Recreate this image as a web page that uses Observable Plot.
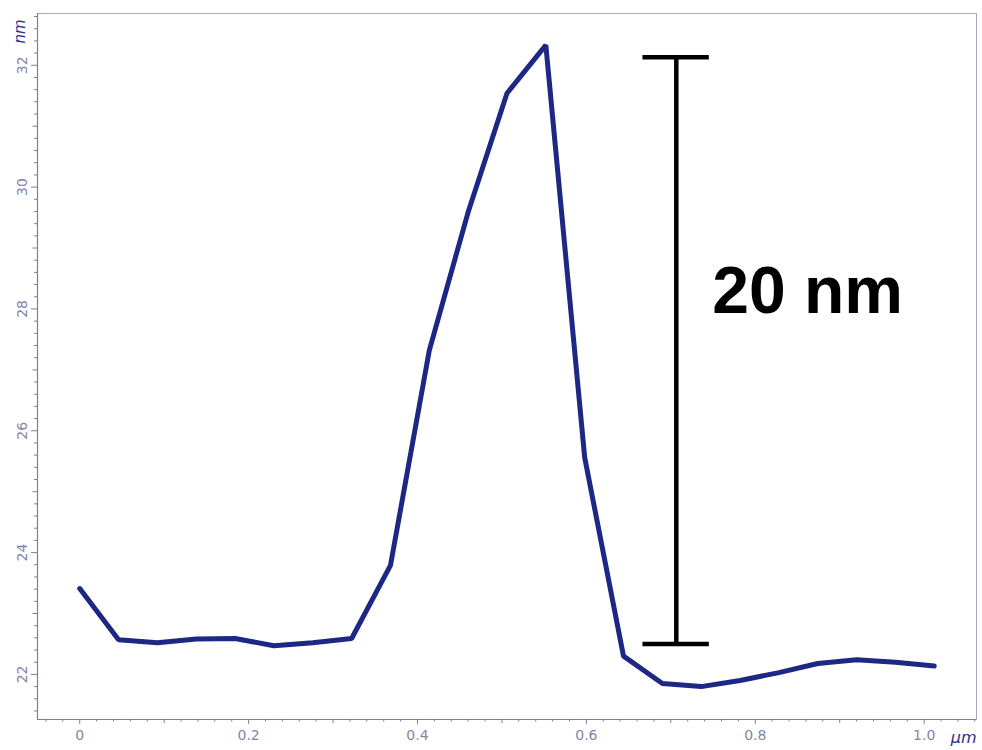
<!DOCTYPE html>
<html>
<head>
<meta charset="utf-8">
<script src="https://cdn.jsdelivr.net/npm/d3@7"></script>
<script src="https://cdn.jsdelivr.net/npm/@observablehq/plot@0.6"></script>
<style>
  html, body { margin: 0; padding: 0; background: #fff; }
</style>
</head>
<body>
<div id="chart"></div>
<script>
// Profile data: position along scan (µm) and height (nm)
const positions = [0, 0.046, 0.092, 0.138, 0.184, 0.230, 0.276, 0.322, 0.368, 0.414, 0.460, 0.506,
                   0.552, 0.598, 0.644, 0.690, 0.736, 0.782, 0.828, 0.874, 0.920, 0.966, 1.012];
const heights = [23.41, 22.57, 22.52, 22.58, 22.59, 22.47, 22.52, 22.59, 23.79, 27.32, 29.59, 31.54,
                 32.33, 25.56, 22.30, 21.85, 21.80, 21.90, 22.03, 22.18, 22.24, 22.20, 22.14];

// Tick labels
const xTickValues = [0, 0.2, 0.4, 0.6, 0.8, 1.0];
const xTickLabels = ["0", "0.2", "0.4", "0.6", "0.8", "1.0"];
const yTickValues = [22, 24, 26, 28, 30, 32];
const yTickLabels = ["22", "24", "26", "28", "30", "32"];

// Scale bar annotation
const barX = [0.7065];
const barY = [22.50, 32.13];
const barCapX = [0.667, 0.7456];
const barLabel = ["20 nm"];
const barLabelPos = [{x: 0.749, y: 27.93}];

const xDomain = [-0.05, 1.062];
const yDomain = [21.26, 32.85];

const xMinor = d3.range(-4, 107, 2).map(i => i / 100).filter(v => Math.round(v * 100) % 10 !== 0);
const xMid = d3.range(0, 11, 1).map(i => i / 10).filter(v => Math.round(v * 10) % 2 !== 0);
const yMinor = d3.range(107, 165, 1).map(i => i / 5).filter(v => Math.abs(v - Math.round(v)) > 1e-6);
const yMid = [23, 25, 27, 29, 31];

const data = positions.map((p, i) => ({x: p, y: heights[i]}));

const axisColor = "#7c7cab";
const labelColor = "#8585a6";
const unitColor = "#2f2f85";

const chart = Plot.plot({
  width: 982,
  height: 750,
  marginTop: 13,
  marginRight: 6,
  marginBottom: 31,
  marginLeft: 37,
  style: {background: "#fff", overflow: "visible"},
  x: {domain: xDomain, label: null},
  y: {domain: yDomain, label: null},
  marks: [
    Plot.frame({stroke: "#a9a9c2", strokeWidth: 1}),
    Plot.ruleX([xDomain[0]], {stroke: axisColor, strokeWidth: 1.2}),
    Plot.ruleY([yDomain[0]], {stroke: axisColor, strokeWidth: 1.2}),
    Plot.axisX(xMinor, {tickSize: 2.5, tickFormat: () => "", color: axisColor, label: null}),
    Plot.axisX(xMid, {tickSize: 4, tickFormat: () => "", color: axisColor, label: null}),
    Plot.axisX(xTickValues, {tickSize: 5, tickFormat: () => "", color: axisColor, label: null}),
    Plot.axisY(yMinor, {tickSize: 3, tickFormat: () => "", color: axisColor, label: null}),
    Plot.axisY(yMid, {tickSize: 4.5, tickFormat: () => "", color: axisColor, label: null}),
    Plot.axisY(yTickValues, {tickSize: 6, tickFormat: () => "", color: axisColor, label: null}),
    Plot.text(xTickValues, {
      x: d => d, text: (d, i) => xTickLabels[i], frameAnchor: "bottom", dy: 16,
      fill: labelColor, fontSize: 14, fontFamily: "DejaVu Sans", lineAnchor: "middle", textAnchor: "middle"
    }),
    Plot.text(yTickValues, {
      y: d => d, text: (d, i) => yTickLabels[i], frameAnchor: "left", dx: -15, rotate: -90,
      fill: labelColor, fontSize: 14, fontFamily: "DejaVu Sans", lineAnchor: "middle", textAnchor: "middle"
    }),
    Plot.text(["nm"], {
      frameAnchor: "top-left", dx: -17, dy: 18, rotate: -90, text: d => d,
      fill: unitColor, fontSize: 15, fontStyle: "italic", fontFamily: "DejaVu Sans",
      textAnchor: "middle", lineAnchor: "middle"
    }),
    Plot.text(["µm"], {
      frameAnchor: "bottom-right", dx: 0, dy: 18, text: d => d,
      fill: unitColor, fontSize: 16, fontStyle: "italic", fontFamily: "DejaVu Sans",
      textAnchor: "end", lineAnchor: "middle"
    }),
    Plot.line(data, {x: "x", y: "y", stroke: "#1d2784", strokeWidth: 5, strokeLinejoin: "miter"}),
    Plot.ruleX(barX, {x: d => d, y1: barY[0], y2: barY[1], stroke: "#000", strokeWidth: 4.5}),
    Plot.ruleY(barY, {y: d => d, x1: barCapX[0], x2: barCapX[1], stroke: "#000", strokeWidth: 4.5}),
    Plot.text(barLabelPos, {
      x: "x", y: "y", text: (d, i) => barLabel[i], fill: "#000",
      fontSize: 66, fontWeight: "bold", fontFamily: "Liberation Sans",
      textAnchor: "start", lineAnchor: "bottom"
    })
  ]
});
document.getElementById("chart").appendChild(chart);
</script>
</body>
</html>
